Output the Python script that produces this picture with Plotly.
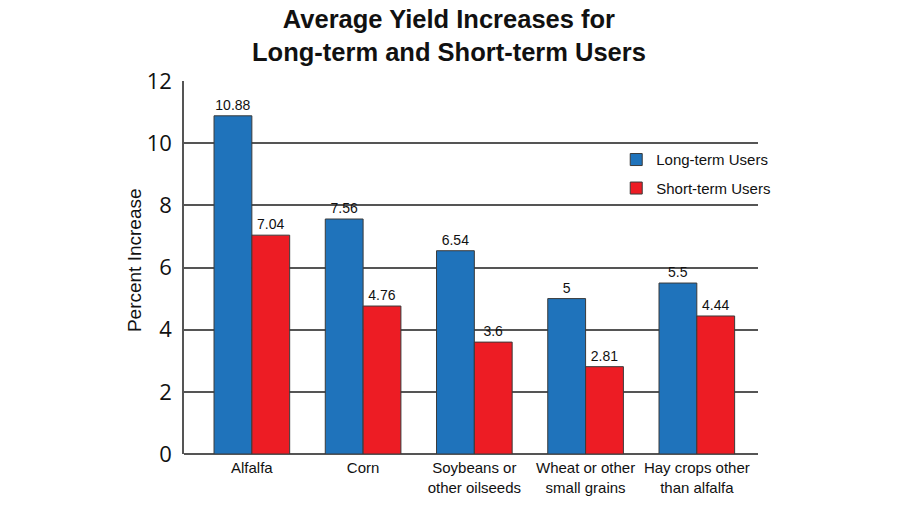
import plotly.graph_objects as go

categories = ["Alfalfa", "Corn", "Soybeans or<br>other oilseeds", "Wheat or other<br>small grains", "Hay crops other<br>than alfalfa"]
long_term = [10.88, 7.56, 6.54, 5, 5.5]
short_term = [7.04, 4.76, 3.6, 2.81, 4.44]
long_labels = ["10.88", "7.56", "6.54", "5", "5.5"]
short_labels = ["7.04", "4.76", "3.6", "2.81", "4.44"]
y_ticks = [0, 2, 4, 6, 8, 10, 12]
title_text = "<b>Average Yield Increases for<br>Long-term and Short-term Users</b>"
y_title = "Percent Increase"

x_idx = list(range(len(categories)))

fig = go.Figure()
fig.add_trace(go.Bar(
    x=x_idx, y=long_term, name="Long-term Users", legendgroup="a",
    marker=dict(color="#1f73bb", line=dict(color="#3a3a3a", width=1)),
    text=long_labels, textposition="outside", cliponaxis=False,
    textfont=dict(family="Liberation Sans, Arial", size=14, color="#111"),
))
fig.add_trace(go.Bar(
    x=x_idx, y=short_term, name="Short-term Users", legendgroup="b",
    marker=dict(color="#ed1c24", line=dict(color="#3a3a3a", width=1)),
    text=short_labels, textposition="outside", cliponaxis=False,
    textfont=dict(family="Liberation Sans, Arial", size=14, color="#111"),
))

fig.add_annotation(
    text=title_text, xref="paper", yref="paper", x=0.462, y=1,
    xanchor="center", yanchor="bottom", yshift=13, showarrow=False,
    font=dict(family="Liberation Sans, Arial", size=25.5, color="#111"),
)
fig.add_annotation(
    text=y_title, xref="paper", yref="paper", x=-0.087, y=0.52,
    xanchor="center", yanchor="middle", textangle=-90, showarrow=False,
    font=dict(family="Liberation Sans, Arial", size=19, color="#111"),
)

fig.update_layout(
    width=900, height=520,
    margin=dict(l=184, r=142, t=81, b=66),
    paper_bgcolor="white", plot_bgcolor="white",
    barmode="group", bargap=0.32, bargroupgap=0,
    legend=dict(
        x=0.753, y=0.833, xanchor="left", yanchor="top",
        bgcolor="rgba(0,0,0,0)", traceorder="grouped",
        font=dict(family="Liberation Sans, Arial", size=15, color="#111"),
        itemwidth=30, tracegroupgap=6,
    ),
    showlegend=True,
    xaxis=dict(
        tickmode="array", tickvals=x_idx, ticktext=categories,
        range=[-0.61, 4.55], showgrid=False, zeroline=False,
        showline=False, ticks="", ticklabelstandoff=3,
        tickfont=dict(family="Liberation Sans, Arial", size=15, color="#111"),
    ),
    yaxis=dict(
        range=[0, 12], tickvals=y_ticks,
        showgrid=True, gridcolor="#555555", gridwidth=1.5,
        zeroline=True, zerolinecolor="#555555", zerolinewidth=1.5,
        showline=True, linecolor="#555555", linewidth=1.5,
        ticks="", ticklabelstandoff=6,
        tickfont=dict(family="Open Sans, Liberation Sans", size=22, color="#111"),
    ),
)

fig.write_html("out.html", config={"displayModeBar": False},
               post_script="document.body.style.margin='0';")
